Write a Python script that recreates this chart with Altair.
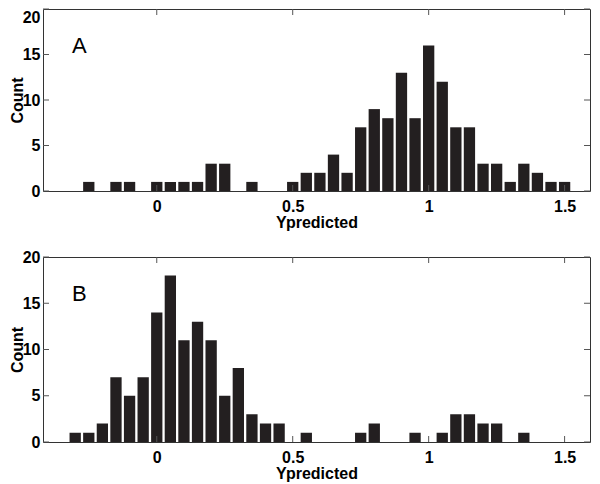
import altair as alt
import pandas as pd

# Panel A histogram (bin centres, counts)
bins_a = [-0.25, -0.15, -0.10, 0.00, 0.05, 0.10, 0.15, 0.20, 0.25, 0.35,
          0.50, 0.55, 0.60, 0.65, 0.70, 0.75, 0.80, 0.85, 0.90, 0.95,
          1.00, 1.05, 1.10, 1.15, 1.20, 1.25, 1.30, 1.35, 1.40, 1.45, 1.50]
counts_a = [1, 1, 1, 1, 1, 1, 1, 3, 3, 1,
            1, 2, 2, 4, 2, 7, 9, 8, 13, 8,
            16, 12, 7, 7, 3, 3, 1, 3, 2, 1, 1]

# Panel B histogram
bins_b = [-0.30, -0.25, -0.20, -0.15, -0.10, -0.05, 0.00, 0.05, 0.10, 0.15,
          0.20, 0.25, 0.30, 0.35, 0.40, 0.45, 0.55, 0.75, 0.80, 0.95,
          1.05, 1.10, 1.15, 1.20, 1.25, 1.35]
counts_b = [1, 1, 2, 7, 5, 7, 14, 18, 11, 13,
            11, 5, 8, 3, 2, 2, 1, 1, 2, 1,
            1, 3, 3, 2, 2, 1]

x_ticks = [0, 0.5, 1, 1.5]
y_ticks = [0, 5, 10, 15, 20]
x_domain = [-0.4, 1.575]
y_domain = [0, 20]

W = 547
FONT = "Liberation Sans"
BAR = "#231f20"
TICK = "#555555"


def panel(bins, counts, letter, H, flush_top):
    df = pd.DataFrame({"x": bins, "c": counts})
    xs = alt.Scale(domain=x_domain, nice=False, zero=False)
    ys = alt.Scale(domain=y_domain, nice=False)
    ybase = {"condition": {"test": "datum.value == 20", "value": "top"}, "value": "middle"} if flush_top else "middle"
    x_axis = alt.Axis(values=x_ticks, format="~g", title="Ypredicted", grid=False, domain=False,
                      ticks=False, labelPadding=7, titlePadding=0,
                      labelFont=FONT, labelFontSize=16, labelFontWeight="bold", labelColor="black",
                      titleFont=FONT, titleFontSize=16, titleFontWeight="bold", titleColor="black")
    y_axis = alt.Axis(values=y_ticks, title="Count", grid=False, domain=False,
                      ticks=False, labelPadding=3, labelBaseline=ybase,
                      titleX=-18, titleAngle=-90, titleBaseline="bottom",
                      labelFont=FONT, labelFontSize=16, labelFontWeight="bold", labelColor="black",
                      titleFont=FONT, titleFontSize=16, titleFontWeight="bold", titleColor="black")
    bars = alt.Chart(df).mark_bar(size=11.3, color=BAR).encode(
        x=alt.X("x:Q", scale=xs, axis=x_axis),
        y=alt.Y("c:Q", scale=ys, axis=y_axis),
    )
    xt = pd.DataFrame({"x": x_ticks})
    yt = pd.DataFrame({"c": y_ticks})
    xb = alt.Chart(xt).mark_rule(color=TICK, strokeWidth=1).encode(
        x=alt.X("x:Q", scale=xs), y=alt.value(H), y2=alt.value(H - 6))
    xtp = alt.Chart(xt).mark_rule(color=TICK, strokeWidth=1).encode(
        x=alt.X("x:Q", scale=xs), y=alt.value(0), y2=alt.value(6))
    yl = alt.Chart(yt).mark_rule(color=TICK, strokeWidth=1).encode(
        y=alt.Y("c:Q", scale=ys), x=alt.value(0), x2=alt.value(6))
    yr = alt.Chart(yt).mark_rule(color=TICK, strokeWidth=1).encode(
        y=alt.Y("c:Q", scale=ys), x=alt.value(W), x2=alt.value(W - 6))
    lab = alt.Chart(pd.DataFrame({"t": [letter]})).mark_text(
        font=FONT, fontSize=22, align="left", baseline="middle", color="black").encode(
        x=alt.value(29), y=alt.value(37), text="t:N")
    return alt.layer(bars, xb, xtp, yl, yr, lab).properties(width=W, height=H)


top = panel(bins_a, counts_a, "A", 182, True)
bot = panel(bins_b, counts_b, "B", 185, False)

chart = alt.vconcat(top, bot, spacing=17).configure_view(
    stroke="#333333", strokeWidth=1
).properties(padding={"left": 0, "top": 0, "right": 0, "bottom": 0})

chart.save("out.html", embed_options={"renderer": "svg", "actions": False})
